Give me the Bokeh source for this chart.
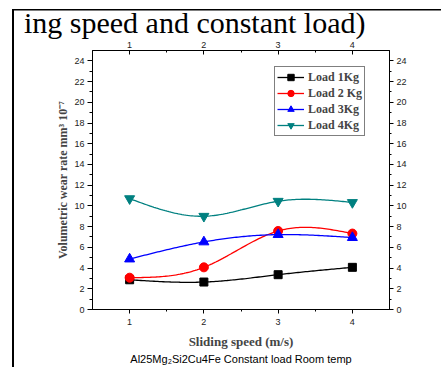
import numpy as np
from bokeh.plotting import figure
from bokeh.models import (LinearAxis, FixedTicker, Legend, LegendItem, Range1d, Title)
from bokeh.embed import file_html
from bokeh.resources import INLINE

speeds = [1, 2, 3, 4]
load_1kg = [2.87, 2.65, 3.36, 4.07]
load_2kg = [3.07, 4.07, 7.58, 7.33]
load_3kg = [4.87, 6.52, 7.23, 6.94]
load_4kg = [10.70, 9.00, 10.45, 10.33]
series_names = ["Load 1Kg", "Load 2 Kg", "Load 3Kg", "Load 4Kg"]
x_ticks = [1, 2, 3, 4]
y_ticks = list(range(0, 25, 2))


def natural_spline(x, y, n=120):
    x = np.asarray(x, float)
    y = np.asarray(y, float)
    m = len(x)
    h = np.diff(x)
    A = np.zeros((m, m))
    b = np.zeros(m)
    A[0, 0] = 1
    A[-1, -1] = 1
    for i in range(1, m - 1):
        A[i, i - 1] = h[i - 1]
        A[i, i] = 2 * (h[i - 1] + h[i])
        A[i, i + 1] = h[i]
        b[i] = 6 * ((y[i + 1] - y[i]) / h[i] - (y[i] - y[i - 1]) / h[i - 1])
    M = np.linalg.solve(A, b)
    xs = np.linspace(x[0], x[-1], n)
    ys = np.empty_like(xs)
    for k, t in enumerate(xs):
        i = min(np.searchsorted(x, t, side="right") - 1, m - 2)
        i = max(i, 0)
        hi = h[i]
        a = (x[i + 1] - t) / hi
        c = (t - x[i]) / hi
        ys[k] = (a * y[i] + c * y[i + 1]
                 + ((a ** 3 - a) * M[i] + (c ** 3 - c) * M[i + 1]) * hi ** 2 / 6)
    return xs, ys


W, H = 441, 367
FL, FR, FT, FB = 92, 389, 50, 309
p = figure(width=W, height=H, output_backend="svg", toolbar_location=None,
           x_range=Range1d(0.5, 4.5), y_range=Range1d(0, 25),
           min_border_left=FL, min_border_right=W - FR, min_border_top=FT,
           min_border_bottom=H - FB)
p.grid.visible = False
p.outline_line_color = "black"
p.background_fill_color = "white"
p.border_fill_alpha = 0
# page edge lines of the scanned document (drawn as CSS background behind canvas)
p.styles = {
    "background-color": "white",
    "background-image": "linear-gradient(black, black), linear-gradient(black, black)",
    "background-size": "2px 100%, 100% 1.5px",
    "background-position": "12px 9px, 12px 8.5px",
    "background-repeat": "no-repeat",
}

xt = FixedTicker(ticks=x_ticks, minor_ticks=[1.5, 2.5, 3.5])
yt = FixedTicker(ticks=y_ticks, minor_ticks=list(range(1, 25, 2)))

tick_font = "Liberation Sans"


def style_axis(ax, tin, tout):
    ax.axis_line_color = "black"
    ax.major_tick_line_color = "black"
    ax.minor_tick_line_color = "black"
    ax.major_tick_in = tin
    ax.major_tick_out = tout
    ax.minor_tick_in = int(round(tin * 0.6))
    ax.minor_tick_out = int(round(tout * 0.6))
    ax.major_label_text_font = tick_font
    ax.major_label_text_font_size = "9px"
    ax.major_label_text_color = "#222222"


xa = p.xaxis[0]
xa.ticker = xt
style_axis(xa, 0, 4)
xa.major_label_standoff = 5
xa.axis_label = "Sliding speed (m/s)"
xa.axis_label_text_font = "Liberation Serif"
xa.axis_label_text_font_style = "bold"
xa.axis_label_text_font_size = "13px"
xa.axis_label_standoff = 6

ya = p.yaxis[0]
ya.ticker = yt
style_axis(ya, 0, 5)
ya.major_label_standoff = 3
ya.axis_label = "Volumetric wear rate mm\u00b3 10\u207b\u2077"
ya.axis_label_text_font = "Liberation Serif"
ya.axis_label_text_font_style = "bold"
ya.axis_label_text_font_size = "12px"
ya.axis_label_standoff = 1

top = LinearAxis(ticker=xt)
style_axis(top, 4, 0)
top.major_label_standoff = 3
p.add_layout(top, "above")

right = LinearAxis(ticker=yt)
style_axis(right, 0, 4)
right.major_label_standoff = 3
p.add_layout(right, "right")

colors = ["black", "#FF0000", "#0000FF", "#008080"]
markers = ["square", "circle", "triangle", "inverted_triangle"]
sizes = [8, 9, 10, 10]
data = [load_1kg, load_2kg, load_3kg, load_4kg]

items = []
for name, ys, c, mk, sz in zip(series_names, data, colors, markers, sizes):
    sx, sy = natural_spline(speeds, ys)
    lr = p.line(sx, sy, line_color=c, line_width=1.3)
    sr = p.scatter(speeds, ys, marker=mk, size=sz, fill_color=c, line_color=c)
    items.append(LegendItem(label=name, renderers=[lr, sr]))

legend = Legend(items=items, location=(182, 173))
legend.label_text_font = "Liberation Serif"
legend.label_text_font_style = "bold"
legend.label_text_font_size = "12px"
legend.glyph_width = 27
legend.glyph_height = 16
legend.label_height = 16
legend.label_standoff = 4
legend.spacing = 0
legend.padding = 2
legend.margin = 0
legend.border_line_color = "black"
legend.border_line_width = 1
legend.background_fill_alpha = 1
p.add_layout(legend, "center")

sub = Title(text="Al25Mg\u2082Si2Cu4Fe Constant load Room temp", align="center",
            text_font="Liberation Sans", text_font_size="11px",
            text_font_style="normal", text_color="black", standoff=-2)
p.add_layout(sub, "below")

head = Title(text="ing speed and constant load)", align="right", offset=24,
             text_font="Liberation Serif", text_font_size="30px",
             text_font_style="normal", text_color="black", standoff=0)
p.add_layout(head, "above")

open("out.html", "w").write(file_html(p, INLINE))
